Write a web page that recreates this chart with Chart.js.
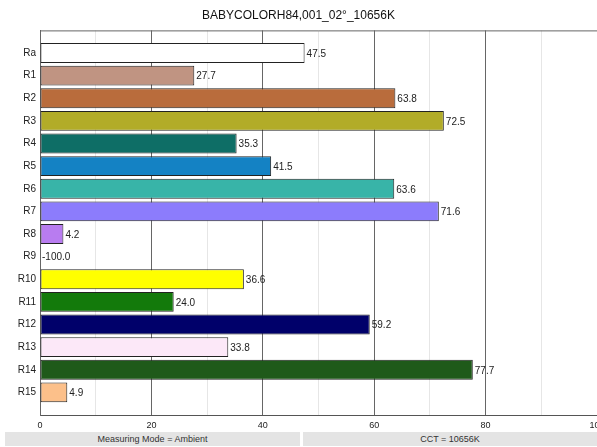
<!DOCTYPE html>
<html>
<head>
<meta charset="utf-8">
<script src="https://cdn.jsdelivr.net/npm/chart.js@4"></script>
<style>
  body { margin: 0; background: #fff; font-family: 'Liberation Sans', Arial, sans-serif; }
  #wrap { position: relative; width: 597px; height: 432px; }
  .foot { position: absolute; top: 432px; height: 14px; background: #e4e4e4; color: #333;
          font-size: 9px; line-height: 14px; text-align: center; }
</style>
</head>
<body>
<div id="wrap"><canvas id="chart"></canvas></div>
<div class="foot" style="left:5px;width:295px">Measuring Mode = Ambient</div>
<div class="foot" style="left:303px;width:294px">CCT = 10656K</div>
<script>
const categories = ['Ra', 'R1', 'R2', 'R3', 'R4', 'R5', 'R6', 'R7', 'R8', 'R9', 'R10', 'R11', 'R12', 'R13', 'R14', 'R15'];
const values = [47.5, 27.7, 63.8, 72.5, 35.3, 41.5, 63.6, 71.6, 4.2, -100.0, 36.6, 24.0, 59.2, 33.8, 77.7, 4.9];
const colors = ['#ffffff', '#c09482', '#b96c3c', '#b2ac28', '#0e6e66', '#1482c4', '#38b4a8', '#8c7cfc',
                '#b87cf0', '#c03030', '#ffff00', '#137a0b', '#00006a', '#fce8f8', '#1f5a1a', '#fcc08a'];
const xTicks = [0, 20, 40, 60, 80, 100];

// blank slots above Ra and below R15
const labels = [''].concat(categories, ['']);
const data = [null].concat(values, [null]);
const bg = ['#fff'].concat(colors, ['#fff']);

const font = '"Liberation Sans", Arial, sans-serif';

const valueLabels = {
  id: 'valueLabels',
  afterDatasetsDraw(chart) {
    const ctx = chart.ctx;
    const area = chart.chartArea;
    const meta = chart.getDatasetMeta(0);
    ctx.save();
    ctx.font = '10px ' + font;
    ctx.fillStyle = '#222';
    ctx.textBaseline = 'middle';
    meta.data.forEach((bar, i) => {
      const v = data[i];
      if (v === null) return;
      const x = Math.max(bar.x, area.left) + 2;
      ctx.fillText(v.toFixed(1), x, bar.y + 1);
    });
    ctx.restore();
  }
};

const frame = {
  id: 'frame',
  afterDraw(chart) {
    const a = chart.chartArea;
    const ctx = chart.ctx;
    ctx.save();
    ctx.strokeStyle = '#666';
    ctx.lineWidth = 1;
    ctx.beginPath();
    ctx.moveTo(a.left, a.top + 0.5);
    ctx.lineTo(a.right, a.top + 0.5);
    ctx.stroke();
    ctx.restore();
  }
};

new Chart(document.getElementById('chart'), {
  type: 'bar',
  data: {
    labels: labels,
    datasets: [{
      data: data,
      backgroundColor: bg,
      borderColor: '#222',
      borderWidth: 1,
      borderSkipped: false,
      barPercentage: 0.88,
      categoryPercentage: 1
    }]
  },
  options: {
    indexAxis: 'y',
    animation: false,
    responsive: true,
    maintainAspectRatio: false,
    plugins: {
      legend: { display: false },
      tooltip: { enabled: false },
      title: {
        display: true,
        text: 'BABYCOLORH84,001_02°_10656K',
        color: '#111',
        font: { size: 12, weight: 'normal', family: font },
        padding: { top: 8, bottom: 8 }
      }
    },
    scales: {
      x: {
        min: 0,
        max: 100,
        ticks: {
          stepSize: 10,
          autoSkip: false,
          maxRotation: 0,
          color: '#222',
          font: { size: 9, family: font },
          padding: 5,
          callback: v => xTicks.includes(v) ? v : ''
        },
        grid: {
          drawTicks: false,
          color: ctx => (ctx.tick && ctx.tick.value % 20 === 0) ? '#666' : '#e6e6e6',
          lineWidth: 1
        },
        border: { color: '#555' },
        afterFit(scale) {
          scale.height = 17;
          scale.paddingLeft = 0;
          scale.paddingRight = 0;
        }
      },
      y: {
        offset: false,
        ticks: {
          autoSkip: false,
          color: '#222',
          font: { size: 10, family: font },
          padding: 4
        },
        grid: { display: false, drawTicks: false },
        border: { color: '#666' },
        afterFit(scale) {
          scale.width = 40;
        }
      }
    }
  },
  plugins: [valueLabels, frame]
});
</script>
</body>
</html>
